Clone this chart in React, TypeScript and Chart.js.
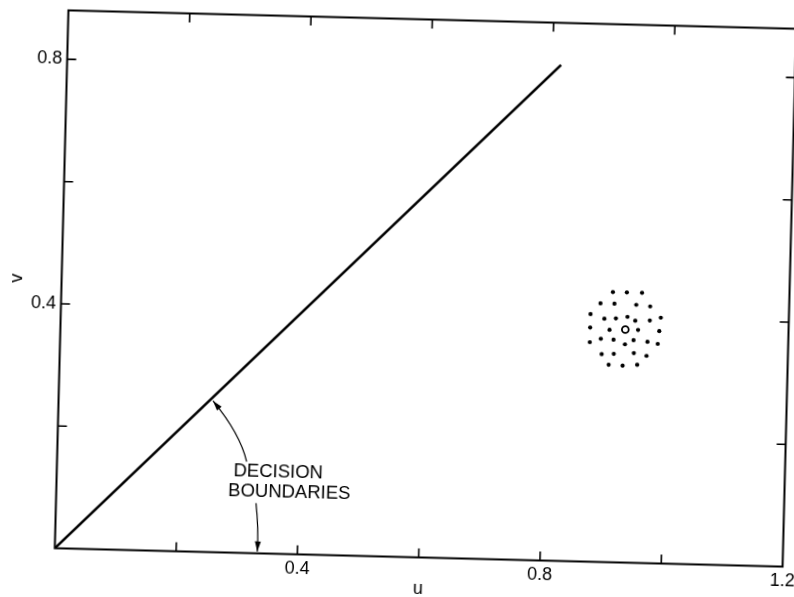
import { useEffect, useRef } from 'react';
import { Chart, registerables } from 'chart.js';

Chart.register(...registerables);

// Axis ranges and tick marks
const U_MIN = 0;
const U_MAX = 1.2;
const V_MIN = 0;
const V_MAX = 0.88;
const U_TICKS = [0.2, 0.4, 0.6, 0.8, 1.0];
const V_TICKS = [0.2, 0.4, 0.6, 0.8];
const U_LABELED = [0.4, 0.8, 1.2];
const V_LABELED = [0.4, 0.8];

// Diagonal decision boundary
const BOUNDARY_U = [0, 0.814];
const BOUNDARY_V = [0, 0.811];

// Sample cluster around the class mean
const CLUSTER_U = [
  0.909, 0.932, 0.957,
  0.889, 0.912, 0.948, 0.971,
  0.873, 0.896, 0.915, 0.934, 0.947, 0.971, 0.989,
  0.873, 0.905, 0.952, 0.987,
  0.873, 0.891, 0.912, 0.931, 0.945, 0.968, 0.985,
  0.893, 0.913, 0.946, 0.967,
  0.905, 0.928, 0.952,
];
const CLUSTER_V = [
  0.442, 0.442, 0.442,
  0.423, 0.423, 0.422, 0.420,
  0.405, 0.398, 0.399, 0.402, 0.396, 0.397, 0.402,
  0.383, 0.380, 0.381, 0.380,
  0.359, 0.365, 0.364, 0.357, 0.364, 0.362, 0.359,
  0.340, 0.341, 0.343, 0.339,
  0.323, 0.322, 0.324,
];
const MEAN_U = [0.931];
const MEAN_V = [0.381];

// Annotation text and its arrows (start, control, tip)
const NOTE_LINES = ['DECISION', 'BOUNDARIES'];
const NOTE_U = [0.365, 0.384];
const NOTE_V = [0.134, 0.1];
const ARROW_A_U = [0.3125, 0.3003, 0.2545];
const ARROW_A_V = [0.1496, 0.1951, 0.2475];
const ARROW_B_U = [0.3296, 0.3351, 0.3338];
const ARROW_B_V = [0.0819, 0.0418, 0.003];

const VIEW_W = 794;
const VIEW_H = 597;
const CANVAS_W = 830;
const CANVAS_H = 620;
const PLOT_LEFT = 61.5;
const PLOT_RIGHT = 789.5;
const PLOT_TOP = 19.5;
const PLOT_BOTTOM = 557.5;
const FONT_FAMILY = '"Liberation Sans", Arial, Helvetica, sans-serif';

const near = (v: number, list: number[]) => list.some((t) => Math.abs(t - v) < 1e-6);

const framePlugin = {
  id: 'frameAndNotes',
  afterDraw(chart: any) {
    const { ctx, chartArea } = chart;
    const xs = chart.scales.x;
    const ys = chart.scales.y;
    const { left, right, top, bottom } = chartArea;
    ctx.save();
    ctx.strokeStyle = '#000';
    ctx.fillStyle = '#000';

    // plot frame
    ctx.lineWidth = 2;
    ctx.strokeRect(left, top, right - left, bottom - top);

    // inward ticks on all four sides
    const TL = 9;
    ctx.lineWidth = 1.6;
    ctx.beginPath();
    U_TICKS.forEach((u) => {
      const x = xs.getPixelForValue(u);
      ctx.moveTo(x, bottom);
      ctx.lineTo(x, bottom - TL);
      ctx.moveTo(x, top);
      ctx.lineTo(x, top + TL);
    });
    V_TICKS.forEach((v) => {
      const y = ys.getPixelForValue(v);
      ctx.moveTo(left, y);
      ctx.lineTo(left + TL, y);
      ctx.moveTo(right, y);
      ctx.lineTo(right - TL, y);
    });
    ctx.stroke();

    // annotation text
    ctx.font = `18.5px ${FONT_FAMILY}`;
    ctx.textAlign = 'center';
    ctx.textBaseline = 'middle';
    NOTE_LINES.forEach((line, i) => {
      ctx.fillText(line, xs.getPixelForValue(NOTE_U[i]), ys.getPixelForValue(NOTE_V[i]));
    });

    // curved arrows
    const drawArrow = (us: number[], vs: number[]) => {
      const p = us.map((u, i) => [xs.getPixelForValue(u), ys.getPixelForValue(vs[i])]);
      ctx.lineWidth = 1.2;
      ctx.beginPath();
      ctx.moveTo(p[0][0], p[0][1]);
      ctx.quadraticCurveTo(p[1][0], p[1][1], p[2][0], p[2][1]);
      ctx.stroke();
      const ang = Math.atan2(p[2][1] - p[1][1], p[2][0] - p[1][0]);
      const len = 10;
      const half = 3;
      const bx = p[2][0] - len * Math.cos(ang);
      const by = p[2][1] - len * Math.sin(ang);
      ctx.beginPath();
      ctx.moveTo(p[2][0], p[2][1]);
      ctx.lineTo(bx + half * Math.sin(ang), by - half * Math.cos(ang));
      ctx.lineTo(bx - half * Math.sin(ang), by + half * Math.cos(ang));
      ctx.closePath();
      ctx.fill();
    };
    drawArrow(ARROW_A_U, ARROW_A_V);
    drawArrow(ARROW_B_U, ARROW_B_V);

    ctx.restore();
  },
};

export default function App() {
  const ref = useRef<HTMLCanvasElement>(null);

  useEffect(() => {
    const canvas = ref.current;
    if (!canvas) return;
    const tickFont = { family: FONT_FAMILY, size: 18 };
    const chart = new Chart(canvas, {
      type: 'scatter',
      data: {
        datasets: [
          {
            data: BOUNDARY_U.map((u, i) => ({ x: u, y: BOUNDARY_V[i] })),
            showLine: true,
            borderColor: '#000',
            borderWidth: 2.6,
            pointRadius: 0,
            fill: false,
          },
          {
            data: CLUSTER_U.map((u, i) => ({ x: u, y: CLUSTER_V[i] })),
            pointRadius: 2.1,
            backgroundColor: '#000',
            borderWidth: 0,
          },
          {
            data: MEAN_U.map((u, i) => ({ x: u, y: MEAN_V[i] })),
            pointRadius: 3.4,
            backgroundColor: '#fff',
            borderColor: '#000',
            borderWidth: 1.8,
          },
        ],
      },
      options: {
        responsive: false,
        animation: false,
        devicePixelRatio: 1,
        events: [],
        layout: {
          padding: { top: PLOT_TOP, right: CANVAS_W - PLOT_RIGHT, left: 0, bottom: 0 },
        },
        plugins: { legend: { display: false }, tooltip: { enabled: false } },
        scales: {
          x: {
            type: 'linear',
            min: U_MIN,
            max: U_MAX,
            afterFit: (s: any) => {
              s.height = CANVAS_H - PLOT_BOTTOM;
              s.paddingLeft = 0;
              s.paddingRight = 0;
            },
            grid: { display: false, drawTicks: false },
            border: { display: false },
            ticks: {
              stepSize: 0.2,
              padding: 4,
              color: '#000',
              font: tickFont,
              autoSkip: false,
              maxRotation: 0,
              callback: (v: any) => (near(Number(v), U_LABELED) ? Number(v).toFixed(1) : ''),
            },
            title: {
              display: true,
              text: 'u',
              color: '#000',
              font: tickFont,
              padding: { top: 0, bottom: 20 },
            },
          },
          y: {
            type: 'linear',
            min: V_MIN,
            max: V_MAX,
            afterFit: (s: any) => {
              s.width = PLOT_LEFT;
              s.paddingTop = 0;
              s.paddingBottom = 0;
            },
            grid: { display: false, drawTicks: false },
            border: { display: false },
            ticks: {
              stepSize: 0.2,
              padding: 5,
              color: '#000',
              font: tickFont,
              autoSkip: false,
              callback: (v: any) => (near(Number(v), V_LABELED) ? Number(v).toFixed(1) : ''),
            },
            title: {
              display: true,
              text: 'v',
              color: '#000',
              font: tickFont,
              padding: { top: 6, bottom: 0 },
            },
          },
        },
      },
      plugins: [framePlugin],
    } as any);
    return () => chart.destroy();
  }, []);

  return (
    <div
      style={{
        position: 'fixed',
        left: 0,
        top: 0,
        width: VIEW_W,
        height: VIEW_H,
        overflow: 'hidden',
        background: '#fff',
      }}
    >
      <canvas
        ref={ref}
        width={CANVAS_W}
        height={CANVAS_H}
        style={{
          display: 'block',
          transform: 'rotate(1.45deg)',
          transformOrigin: `${(PLOT_LEFT + PLOT_RIGHT) / 2}px ${(PLOT_TOP + PLOT_BOTTOM) / 2}px`,
        }}
      />
    </div>
  );
}
